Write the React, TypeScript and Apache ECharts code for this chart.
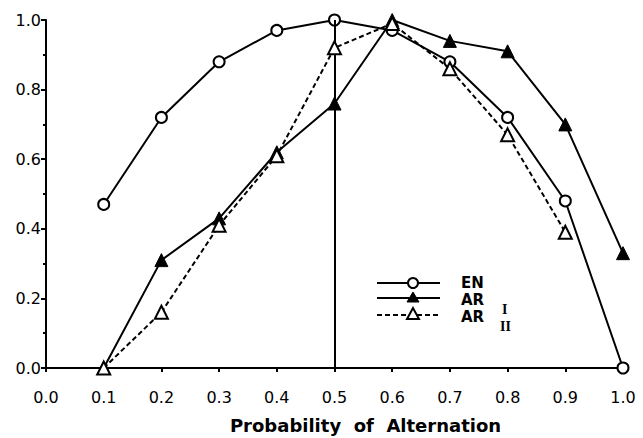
import React, { useEffect, useRef } from "react";
import * as echarts from "echarts";

const xValues = [0.1, 0.2, 0.3, 0.4, 0.5, 0.6, 0.7, 0.8, 0.9, 1.0];
const enValues = [0.47, 0.72, 0.88, 0.97, 1.0, 0.97, 0.88, 0.72, 0.48, 0.0];
const ar1Values = [0.0, 0.31, 0.43, 0.62, 0.76, 1.0, 0.94, 0.91, 0.7, 0.33];
const ar2Values = [0.0, 0.16, 0.41, 0.61, 0.92, 0.99, 0.86, 0.67, 0.39];
const referenceX = 0.5;

const FONT = "DejaVu Sans, Liberation Sans, sans-serif";
const SERIF = "Liberation Serif";

export default function App() {
  const ref = useRef<HTMLDivElement>(null);
  useEffect(() => {
    if (!ref.current) return;
    const chart = echarts.init(ref.current, undefined, { renderer: "svg" });
    const pair = (vals: number[]) => vals.map((v, i) => [xValues[i], v]);
    const lineBase = { color: "#000", width: 2 };
    const legendText = (x: number, y: number, text: string) => ({
      type: "text",
      x,
      y,
      style: { text, fontFamily: FONT, fontWeight: "bold", fontSize: 15, fill: "#000", verticalAlign: "middle" },
    });
    const subText = (x: number, y: number, text: string) => ({
      type: "text",
      x,
      y,
      style: { text, fontFamily: SERIF, fontWeight: "bold", fontSize: 14, fill: "#000", verticalAlign: "middle" },
    });
    chart.setOption({
      animation: false,
      backgroundColor: "#fff",
      grid: { left: 46, right: 20, top: 20, bottom: 70, outerBoundsMode: "none", containLabel: false },
      xAxis: {
        type: "value",
        min: 0,
        max: 1,
        interval: 0.1,
        name: "Probability  of  Alternation",
        nameLocation: "middle",
        nameGap: 48,
        nameMoveOverlap: false,
        nameTextStyle: {
          fontFamily: FONT,
          fontWeight: "bold",
          fontSize: 18,
          color: "#000",
          padding: [0, 0, 0, 62],
        },
        axisLine: { lineStyle: { color: "#000", width: 2 } },
        axisTick: { show: true, length: 4, lineStyle: { color: "#000", width: 2 } },
        splitLine: { show: false },
        axisLabel: {
          fontFamily: FONT,
          fontSize: 16,
          color: "#000",
          margin: 21,
          formatter: (v: number) => v.toFixed(1),
        },
      },
      yAxis: {
        type: "value",
        min: 0,
        max: 1,
        interval: 0.2,
        axisLine: { show: true, lineStyle: { color: "#000", width: 2 } },
        axisTick: { show: true, length: 5, lineStyle: { color: "#000", width: 2 } },
        minorTick: { show: true, splitNumber: 2, length: 3, lineStyle: { color: "#000", width: 2 } },
        splitLine: { show: false },
        axisLabel: {
          fontFamily: FONT,
          fontSize: 16,
          color: "#000",
          margin: 5,
          formatter: (v: number) => v.toFixed(1),
        },
      },
      series: [
        {
          name: "EN",
          type: "line",
          data: pair(enValues),
          symbol: "circle",
          symbolSize: 11,
          lineStyle: lineBase,
          itemStyle: { color: "#fff", borderColor: "#000", borderWidth: 2 },
          z: 3,
          markLine: {
            silent: true,
            symbol: "none",
            label: { show: false },
            lineStyle: { color: "#000", width: 2, type: "solid" },
            data: [[{ coord: [referenceX, 0] }, { coord: [referenceX, 1] }]],
          },
        },
        {
          name: "AR I",
          type: "line",
          data: pair(ar1Values),
          symbol: "triangle",
          symbolSize: 13,
          lineStyle: lineBase,
          itemStyle: { color: "#000", borderColor: "#000", borderWidth: 1 },
          z: 4,
        },
        {
          name: "AR II",
          type: "line",
          data: pair(ar2Values),
          symbol: "triangle",
          symbolSize: 13,
          lineStyle: { color: "#000", width: 2, type: [5, 3] },
          itemStyle: { color: "#fff", borderColor: "#000", borderWidth: 2 },
          z: 5,
        },
      ],
      graphic: [
        { type: "line", shape: { x1: 377, y1: 283, x2: 440, y2: 283 }, style: { stroke: "#000", lineWidth: 2 } },
        { type: "circle", shape: { cx: 413, cy: 283, r: 5 }, style: { fill: "#fff", stroke: "#000", lineWidth: 2 } },
        legendText(461, 283, "EN"),
        { type: "line", shape: { x1: 377, y1: 298, x2: 440, y2: 298 }, style: { stroke: "#000", lineWidth: 2 } },
        { type: "polygon", shape: { points: [[413, 292], [407, 302], [419, 302]] }, style: { fill: "#000", stroke: "#000", lineWidth: 1 } },
        legendText(461, 300, "AR"),
        subText(502, 309, "I"),
        { type: "line", shape: { x1: 377, y1: 315, x2: 440, y2: 315 }, style: { stroke: "#000", lineWidth: 2, lineDash: [5, 3] } },
        { type: "polygon", shape: { points: [[413, 308], [407, 319], [419, 319]] }, style: { fill: "#fff", stroke: "#000", lineWidth: 2 } },
        legendText(461, 317, "AR"),
        subText(500, 326, "II"),
      ],
    });
    return () => chart.dispose();
  }, []);
  return <div ref={ref} style={{ width: 643, height: 438, position: "absolute", left: 0, top: 0 }} />;
}
